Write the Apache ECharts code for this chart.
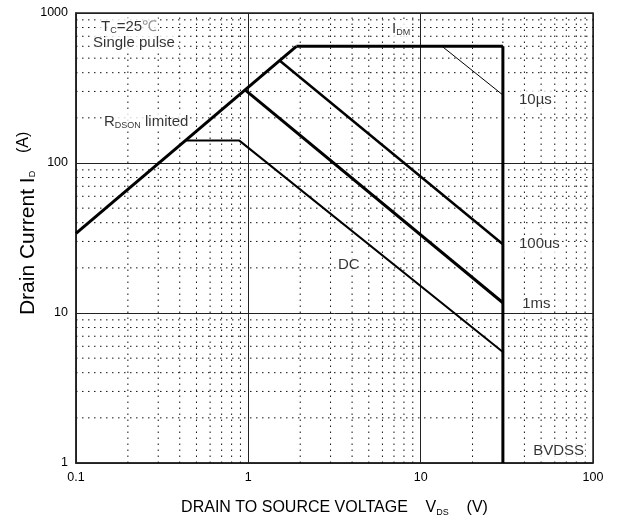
<!DOCTYPE html>
<html><head><meta charset="utf-8">
<script src="https://cdn.jsdelivr.net/npm/echarts@6/dist/echarts.min.js"></script>
<style>html,body{margin:0;padding:0;background:#fff}#c{width:621px;height:523px}</style>
</head><body><div id="c"></div>
<script>
// Axis extents and grid values
var xRange = [0.1, 100];
var yRange = [1, 1000];
var xMinor = [0.2,0.3,0.4,0.5,0.6,0.7,0.8,0.9,2,3,4,5,6,7,8,9,20,30,40,50,60,70,80,90];
var yMinor = [2,3,4,5,6,7,8,9,20,30,40,50,60,70,80,90,200,300,400,500,600,700,800,900];
// SOA boundary series (V, A)
var rdsonLimit = [[0.1,34],[1.9,600]];
var idmLimit = [[1.9,600],[30,600]];
var bvdssLimit = [[30,600],[30,1]];
var pulse10us = [[13.3,600],[30,284]];
var pulse100us = [[1.53,479],[30,28.7]];
var pulse1ms = [[0.957,307],[30,11.7]];
var dcLine = [[0.43,141],[0.887,141],[30,5.5]];
// Annotation anchors (V, A)
var annotations = [
  {value:[0.138,807], text:'{n|T}{s|C}{n|=25}{d|℃}'},
  {value:[0.124,631], text:'{n|Single pulse}'},
  {value:[0.1435,188], text:'{n|R}{s|DSON}{n| limited}'},
  {value:[6.73,782], text:'{n|I}{s|DM}'},
  {value:[36.7,263], text:'{n|10µs}'},
  {value:[36.7,28.8], text:'{n|100us}'},
  {value:[38.3,11.5], text:'{n|1ms}'},
  {value:[3.27,20.9], text:'{n|DC}'},
  {value:[44.4,1.2], text:'{n|BVDSS}'}
];

var FONT = '"Liberation Sans", Arial, sans-serif';
var chart = echarts.init(document.getElementById('c'));
var series = [];
xMinor.forEach(function(v){
  series.push({type:'line', data:[[v,yRange[0]],[v,yRange[1]]], symbol:'none', silent:true, z:1,
    lineStyle:{color:'#111', width:1, type:[1.5,4.5]}});
});
yMinor.forEach(function(v){
  series.push({type:'line', data:[[xRange[0],v],[xRange[1],v]], symbol:'none', silent:true, z:1,
    lineStyle:{color:'#111', width:1, type:[1.5,4.5]}});
});
function curve(d, w){
  return {type:'line', data:d, symbol:'none', z:5, lineStyle:{color:'#000', width:w}};
}
series.push(curve(rdsonLimit,3));
series.push(curve(idmLimit,3));
series.push(curve(bvdssLimit,3));
series.push(curve(pulse10us,1));
series.push(curve(pulse100us,2.5));
series.push(curve(pulse1ms,3));
series.push(curve(dcLine,2));
var rich = {
  n:{fontSize:15, fontFamily:FONT, color:'#000', lineHeight:18},
  s:{fontSize:9, fontFamily:FONT, color:'#000', lineHeight:18, padding:[7,0,0,0]},
  d:{fontSize:15, fontFamily:FONT, color:'#777', lineHeight:18, fontWeight:'lighter'}
};
series.push({type:'scatter', symbolSize:0, z:10, silent:true,
  data: annotations.map(function(a){
    return {value:a.value, label:{show:true, position:'right', distance:0, formatter:a.text,
      color:'#000', backgroundColor:'#fff', padding:[0,1,0,1], rich:rich}};
  })
});

function plain(v){ return String(+v.toPrecision(6)); }

chart.setOption({
  animation:false,
  backgroundColor:'#fff',
  grid:{left:76, right:28, top:13, bottom:60, show:true, borderColor:'#222', borderWidth:1.5,
    containLabel:false, outerBoundsMode:'none'},
  xAxis:{type:'log', logBase:10, min:xRange[0], max:xRange[1],
    axisLine:{show:true, onZero:false, lineStyle:{color:'#222', width:1.5}},
    axisTick:{show:false},
    axisLabel:{color:'#000', fontSize:12.5, fontFamily:FONT, margin:8, formatter:plain},
    splitLine:{show:true, lineStyle:{color:'#222', width:1}},
    nameMoveOverlap:false,
    name:'{a|DRAIN TO SOURCE VOLTAGE    V}{s|DS}{a|    (V)}', nameLocation:'middle', nameGap:35,
    nameTextStyle:{rich:{a:{fontSize:16, fontFamily:FONT, color:'#000', lineHeight:20},
      s:{fontSize:9, fontFamily:FONT, color:'#000', lineHeight:20, padding:[10,0,0,0]}}}
  },
  yAxis:{type:'log', logBase:10, min:yRange[0], max:yRange[1],
    axisLine:{show:true, onZero:false, lineStyle:{color:'#222', width:1.5}},
    axisTick:{show:false},
    axisLabel:{color:'#000', fontSize:12.5, fontFamily:FONT, margin:8, formatter:plain},
    splitLine:{show:true, lineStyle:{color:'#222', width:1}},
    nameMoveOverlap:false,
    name:'{a|     Drain Current I}{s|D}{b|    (A)}', nameLocation:'middle', nameGap:36, nameRotate:90,
    nameTextStyle:{rich:{a:{fontSize:21, fontFamily:FONT, color:'#000', lineHeight:24},
      b:{fontSize:16, fontFamily:FONT, color:'#000', lineHeight:24, padding:[0,0,9,0]},
      s:{fontSize:9, fontFamily:FONT, color:'#000', lineHeight:24, padding:[10,0,0,0]}}}
  },
  series:series
});
</script></body></html>
